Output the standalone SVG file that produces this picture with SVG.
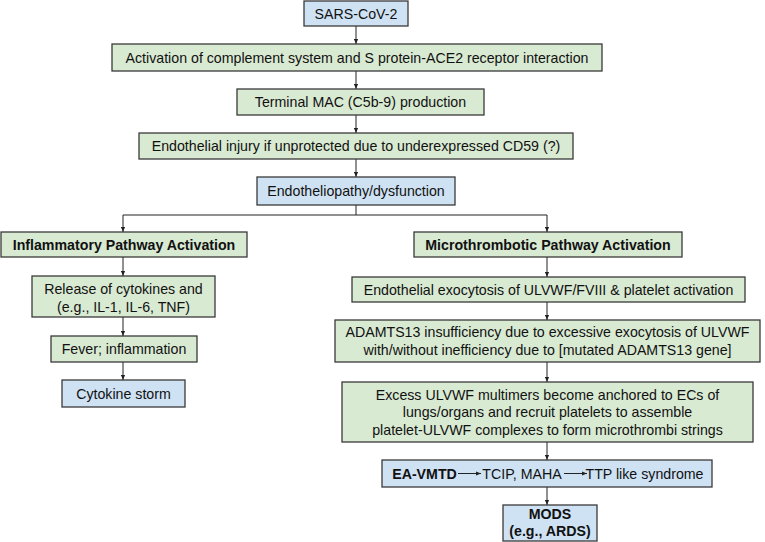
<svg xmlns="http://www.w3.org/2000/svg" width="765" height="542" viewBox="0 0 765 542">
<defs>
<style>
.g{fill:#d9ead3;stroke:#3a3a3a;stroke-width:1.3}
.b{fill:#cfe2f3;stroke:#3a3a3a;stroke-width:1.3}
text{font-family:"Liberation Sans",Arial,sans-serif;font-size:14.2px;fill:#111;text-anchor:middle}
.bold{font-weight:bold}
.c{fill:none;stroke:#222;stroke-width:1}
</style>
<marker id="ah" viewBox="0 0 6 6" refX="6" refY="3" markerWidth="5" markerHeight="5" markerUnits="userSpaceOnUse" orient="auto">
<path d="M0,0.5 L6,3 L0,5.5 Z" fill="#222"/>
</marker>
</defs>
<rect width="765" height="542" fill="#fff"/>
<g id="connectors">
<line class="c" x1="356" y1="26" x2="356" y2="44" marker-end="url(#ah)"/>
<line class="c" x1="356" y1="71" x2="356" y2="89" marker-end="url(#ah)"/>
<line class="c" x1="356" y1="115" x2="356" y2="133" marker-end="url(#ah)"/>
<line class="c" x1="356" y1="159" x2="356" y2="177" marker-end="url(#ah)"/>
<polyline class="c" points="356,205 356,215 123,215 123,232" marker-end="url(#ah)"/>
<polyline class="c" points="356,215 547,215 547,232" marker-end="url(#ah)"/>
<line class="c" x1="123" y1="257" x2="123" y2="276" marker-end="url(#ah)"/>
<line class="c" x1="123" y1="317" x2="123" y2="336" marker-end="url(#ah)"/>
<line class="c" x1="123" y1="362" x2="123" y2="380" marker-end="url(#ah)"/>
<line class="c" x1="547" y1="257" x2="547" y2="277" marker-end="url(#ah)"/>
<line class="c" x1="547" y1="302" x2="547" y2="320" marker-end="url(#ah)"/>
<line class="c" x1="547" y1="362" x2="547" y2="382" marker-end="url(#ah)"/>
<line class="c" x1="547" y1="442" x2="547" y2="460" marker-end="url(#ah)"/>
<line class="c" x1="547" y1="487" x2="547" y2="505" marker-end="url(#ah)"/>
</g>
<g id="n-sars">
<rect class="b" x="304" y="1" width="104" height="25"/>
<text x="356" y="18.5">SARS-CoV-2</text>
</g>
<g id="n-activation">
<rect class="g" x="112" y="44" width="490" height="27"/>
<text x="357" y="62.5">Activation of complement system and S protein-ACE2 receptor interaction</text>
</g>
<g id="n-mac">
<rect class="g" x="237" y="89" width="247" height="26"/>
<text x="360.5" y="107">Terminal MAC (C5b-9) production</text>
</g>
<g id="n-injury">
<rect class="g" x="139" y="133" width="434" height="26"/>
<text x="356" y="151">Endothelial injury if unprotected due to underexpressed CD59 (?)</text>
</g>
<g id="n-endotheliopathy">
<rect class="b" x="257" y="177" width="198" height="28"/>
<text x="356" y="196">Endotheliopathy/dysfunction</text>
</g>
<g id="n-inflammatory">
<rect class="g" x="1" y="232" width="246" height="25"/>
<text class="bold" x="124" y="249.5">Inflammatory Pathway Activation</text>
</g>
<g id="n-release">
<rect class="g" x="32" y="276" width="183" height="41"/>
<text x="123.5" y="293.5">Release of cytokines and</text>
<text x="123.5" y="311.5">(e.g., IL-1, IL-6, TNF)</text>
</g>
<g id="n-fever">
<rect class="g" x="51" y="336" width="146" height="26"/>
<text x="124" y="354">Fever; inflammation</text>
</g>
<g id="n-cytokine">
<rect class="b" x="62" y="380" width="123" height="27"/>
<text x="123.5" y="398.5">Cytokine storm</text>
</g>
<g id="n-micro">
<rect class="g" x="414" y="232" width="268" height="25"/>
<text class="bold" x="548" y="249.5">Microthrombotic Pathway Activation</text>
</g>
<g id="n-exocytosis">
<rect class="g" x="352" y="277" width="393" height="25"/>
<text x="548.5" y="294.5">Endothelial exocytosis of ULVWF/FVIII &amp; platelet activation</text>
</g>
<g id="n-adamts">
<rect class="g" x="335" y="320" width="425" height="42"/>
<text x="547.5" y="337">ADAMTS13 insufficiency due to excessive exocytosis of ULVWF</text>
<text x="547.5" y="355">with/without inefficiency due to [mutated ADAMTS13 gene]</text>
</g>
<g id="n-excess">
<rect class="g" x="342" y="382" width="411" height="60"/>
<text x="547.5" y="399.5">Excess ULVWF multimers become anchored to ECs of</text>
<text x="547.5" y="417">lungs/organs and recruit platelets to assemble</text>
<text x="547.5" y="434.5">platelet-ULVWF complexes to form microthrombi strings</text>
</g>
<g id="n-eavmtd">
<rect class="b" x="382" y="460" width="330" height="27"/>
<text class="bold" x="424.5" y="478.5">EA-VMTD</text>
<line class="c" x1="458" y1="473.5" x2="481" y2="473.5" marker-end="url(#ah)"/>
<text x="522" y="478.5">TCIP, MAHA</text>
<line class="c" x1="564" y1="473.5" x2="587" y2="473.5" marker-end="url(#ah)"/>
<text x="644.5" y="478.5">TTP like syndrome</text>
</g>
<g id="n-mods">
<rect class="b" x="503" y="505" width="94" height="36"/>
<text class="bold" x="550" y="519">MODS</text>
<text class="bold" x="550" y="535.5">(e.g., ARDS)</text>
</g>
</svg>
